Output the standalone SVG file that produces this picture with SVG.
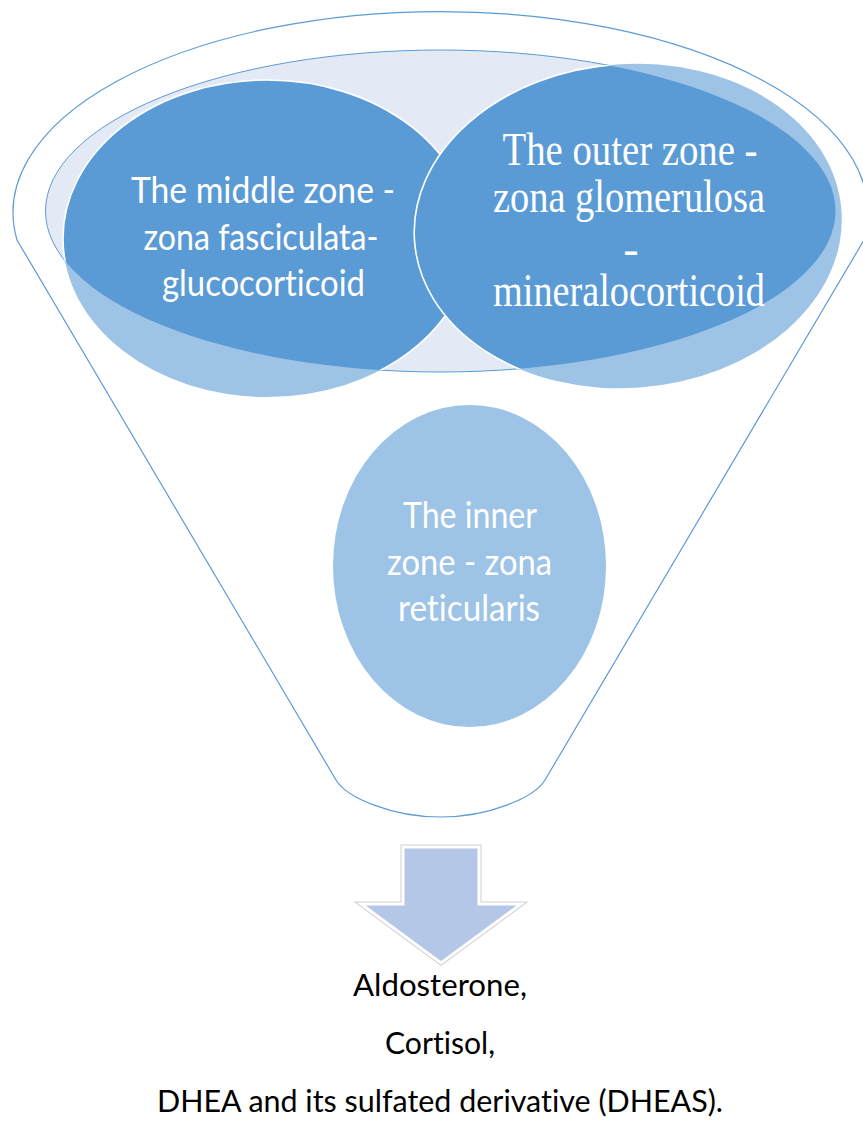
<svg xmlns="http://www.w3.org/2000/svg" width="863" height="1129" viewBox="0 0 863 1129">
  <defs>
    <!-- opening of the funnel; circles look deeper where they sit inside it -->
    <clipPath id="rimClip">
      <ellipse cx="440.5" cy="211" rx="395" ry="161"/>
    </clipPath>
    <style>
      .outline { fill: #ffffff; stroke: #5b9bd5; stroke-width: 1.2; }
      .rim { fill: #e3eaf5; stroke: #5b9bd5; stroke-width: 1; }
      .zone-light { fill: #9dc3e6; }
      .zone-dark { fill: #5b9bd5; }
      .zone-edge { fill: none; stroke: #ffffff; stroke-width: 1.6; }
      .sans { font-family: Lato, "Open Sans", "Liberation Sans", sans-serif; font-variant-ligatures: none; }
      .serif { font-family: "Liberation Serif", "Times New Roman", serif; font-variant-ligatures: none; }
      .label { fill: #ffffff; text-anchor: middle; }
      .result { fill: #000000; text-anchor: middle; font-size: 31px; }
    </style>
  </defs>

  <!-- funnel body -->
  <g id="funnel">
    <path class="outline" d="M 17 240 A 427.5 201 0 1 1 864 240 L 545 780 C 535 797 490 817 440.5 817 C 391 817 346 797 336 780 Z"/>
    <ellipse class="rim" cx="440.5" cy="211" rx="395" ry="161"/>
  </g>

  <!-- middle zone -->
  <g id="middle-zone">
    <ellipse class="zone-light" cx="267" cy="238.5" rx="204" ry="158.5"/>
    <g clip-path="url(#rimClip)">
      <ellipse class="zone-dark" cx="267" cy="238.5" rx="204" ry="158.5"/>
      <ellipse class="zone-edge" cx="267" cy="238.5" rx="204" ry="158.5"/>
    </g>
    <g class="sans label" font-size="37">
      <text x="263" y="203" textLength="264" lengthAdjust="spacingAndGlyphs">The middle zone -</text>
      <text x="261" y="250" textLength="235" lengthAdjust="spacingAndGlyphs">zona fasciculata-</text>
      <text x="263.5" y="296" textLength="203" lengthAdjust="spacingAndGlyphs">glucocorticoid</text>
    </g>
  </g>

  <!-- outer zone -->
  <g id="outer-zone">
    <ellipse class="zone-light" cx="628" cy="226" rx="214" ry="162" transform="rotate(-4 628 226)"/>
    <g clip-path="url(#rimClip)">
      <ellipse class="zone-dark" cx="628" cy="226" rx="214" ry="162" transform="rotate(-4 628 226)"/>
      <ellipse class="zone-edge" cx="628" cy="226" rx="214" ry="162" transform="rotate(-4 628 226)"/>
    </g>
    <g class="serif label" font-size="46">
      <text x="630" y="165" textLength="255" lengthAdjust="spacingAndGlyphs">The outer zone -</text>
      <text x="629" y="212" textLength="272" lengthAdjust="spacingAndGlyphs">zona glomerulosa</text>
      <text x="631" y="264">-</text>
      <text x="629" y="306" textLength="272" lengthAdjust="spacingAndGlyphs">mineralocorticoid</text>
    </g>
  </g>

  <!-- inner zone -->
  <g id="inner-zone">
    <ellipse class="zone-light" cx="469.5" cy="566" rx="136.5" ry="161"/>
    <g class="sans label" font-size="37">
      <text x="470" y="528" textLength="134" lengthAdjust="spacingAndGlyphs">The inner</text>
      <text x="469.5" y="575" textLength="165" lengthAdjust="spacingAndGlyphs">zone - zona</text>
      <text x="469" y="621" textLength="142" lengthAdjust="spacingAndGlyphs">reticularis</text>
    </g>
  </g>

  <!-- downward arrow leading to the hormones -->
  <g id="connectors">
    <polygon points="403,847 479,847 479,904 521,904 441,963 361,904 403,904" fill="none" stroke="#d0d0d0" stroke-width="5" stroke-linejoin="miter"/>
    <polygon points="403,847 479,847 479,904 521,904 441,963 361,904 403,904" fill="#b4c7e7" stroke="#ffffff" stroke-width="3" stroke-linejoin="miter"/>
  </g>

  <!-- hormones produced -->
  <g id="hormones" class="sans result">
    <text x="440" y="996" textLength="174" lengthAdjust="spacingAndGlyphs">Aldosterone,</text>
    <text x="440" y="1054" textLength="110" lengthAdjust="spacingAndGlyphs">Cortisol,</text>
    <text x="440" y="1112" textLength="566" lengthAdjust="spacingAndGlyphs">DHEA and its sulfated derivative (DHEAS).</text>
  </g>
</svg>
